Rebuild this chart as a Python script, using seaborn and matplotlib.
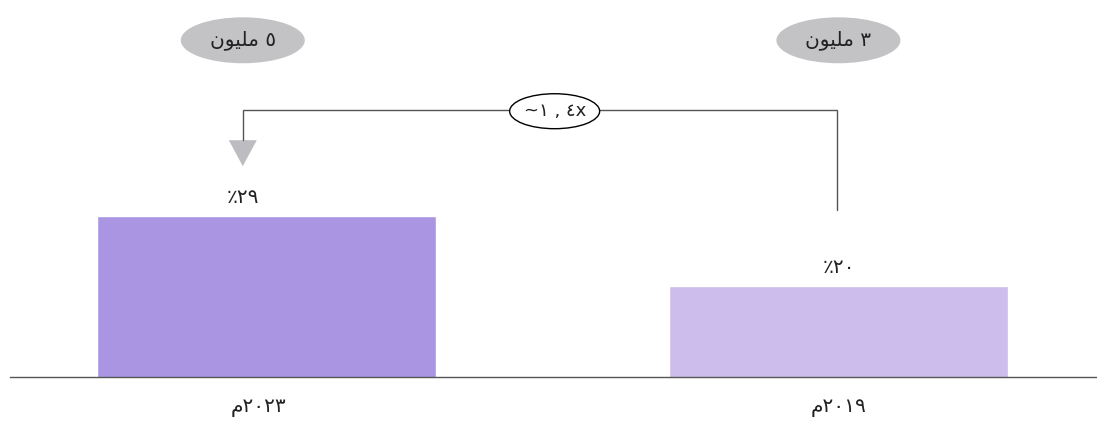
import matplotlib
matplotlib.use("Agg")
import matplotlib.pyplot as plt
from matplotlib.patches import Ellipse, Polygon
import seaborn as sns
import pandas as pd

# data (right-to-left order: 2023 on the left, 2019 on the right)
years = ["\uFEE1\u0662\u0660\u0662\u0663", "\uFEE1\u0662\u0660\u0661\u0669"]   # م٢٠٢٣ / م٢٠١٩
shares = [29, 20]
share_labels = ["\u066A\u0662\u0669", "\u066A\u0662\u0660"]                      # ٪٢٩ / ٪٢٠
totals = ["\uFEE5\uFEEE\uFEF4\uFEE0\uFEE3 \u0665", "\uFEE5\uFEEE\uFEF4\uFEE0\uFEE3 \u0663"]  # ٥ مليون / ٣ مليون
growth = "~\u0661 , \u0664x"
bar_colors = ["#AA95E2", "#CDBDED"]

sns.set_style("white")
plt.rcParams["font.family"] = ["DejaVu Sans"]

df = pd.DataFrame({"year": years, "share": shares})

fig = plt.figure(figsize=(10.97, 4.24), dpi=100)
ax = fig.add_axes([0.0091, 0.111, 0.9909, 0.889])

sns.barplot(data=df, x="year", y="share", hue="year", palette=bar_colors,
            width=0.593, legend=False, ax=ax, saturation=1)

ax.set_xlim(-0.448, 1.452)
ax.set_ylim(8.3, 56.8)

for s in ["top", "right", "left"]:
    ax.spines[s].set_visible(False)
ax.spines["bottom"].set_color("#555555")
ax.spines["bottom"].set_linewidth(1.0)
ax.set_yticks([])
ax.set_xticks([])
ax.set_xlabel("")
ax.set_ylabel("")

# helper: offset in pixels -> data units
xu = 1 / 572.0
yu = 1 / 7.78
base = 8.3

def ypix(py):
    return base + (377 - py) * yu

# year labels below axis
for i, lab in enumerate(years):
    ax.text(i - 8 * xu * (1 - i), ypix(408), lab, ha="center", va="center",
            fontsize=14.5, color="#222222", clip_on=False)

# share labels above bars
for i, (v, lab) in enumerate(zip(shares, share_labels)):
    ax.text(i - 23 * xu * (1 - i), v + 19 * yu, lab, ha="center", va="center",
            fontsize=14.5, color="#222222")

# grey total bubbles
for i, lab in enumerate(totals):
    cx = i - 23.5 * xu * (1 - i)
    ax.add_patch(Ellipse((cx, ypix(40)), 124 * xu, 46 * yu,
                         facecolor="#C3C3C6", edgecolor="none"))
    ax.text(cx, ypix(40), lab, ha="center", va="center",
            fontsize=14.5, color="#222222")

# connector line from 2019 bar to 2023 bar
x_right = 1 - 1.5 * xu
x_left = -23.5 * xu
ax.plot([x_right, x_right, x_left, x_left],
        [ypix(210), ypix(110), ypix(110), ypix(140)],
        color="#555555", linewidth=1.0, solid_joinstyle="miter")

# arrow head
ax.add_patch(Polygon([(x_left - 14 * xu, ypix(140)), (x_left + 14 * xu, ypix(140)),
                      (x_left, ypix(166))], closed=True,
                     facecolor="#BDBDC1", edgecolor="none"))

# growth bubble
gx = 0.504
ax.add_patch(Ellipse((gx, ypix(111)), 90 * xu, 35 * yu,
                     facecolor="white", edgecolor="black", linewidth=1.0, zorder=3))
ax.text(gx, ypix(111), growth, ha="center", va="center", fontsize=13,
        color="#222222", zorder=4)

fig.savefig("out.png", dpi=100)
